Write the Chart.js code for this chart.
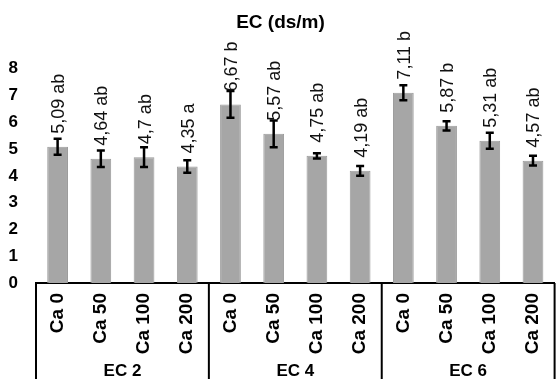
<!DOCTYPE html>
<html>
<head>
<meta charset="utf-8">
<script src="https://cdn.jsdelivr.net/npm/chart.js@4.4.0/dist/chart.umd.min.js"></script>
<style>
html,body{margin:0;padding:0;overflow:hidden;background:#fff;}
#wrap{width:566px;height:383px;position:relative;}
</style>
</head>
<body>
<div id="wrap"><canvas id="c"></canvas></div>
<script>
const categories = ['Ca 0','Ca 50','Ca 100','Ca 200','Ca 0','Ca 50','Ca 100','Ca 200','Ca 0','Ca 50','Ca 100','Ca 200'];
const groups = ['EC 2','EC 4','EC 6'];
const values = [5.09,4.64,4.7,4.35,6.67,5.57,4.75,4.19,7.11,5.87,5.31,4.57];
const errors = [0.30,0.31,0.37,0.23,0.50,0.50,0.10,0.18,0.28,0.17,0.30,0.18];
const letters = ['ab','ab','ab','a','b','ab','ab','ab','b','b','ab','ab'];
const yTicks = [0,1,2,3,4,5,6,7,8];

const FONT = "'Liberation Sans', Arial, sans-serif";

const extras = {
  id: 'extras',
  afterDatasetsDraw(chart) {
    const ctx = chart.ctx;
    const x = chart.scales.x, y = chart.scales.y;
    ctx.save();
    // error bars
    ctx.strokeStyle = '#000';
    values.forEach((v, i) => {
      const cx = x.getPixelForValue(i);
      const yt = y.getPixelForValue(v + errors[i]);
      const yb = y.getPixelForValue(v - errors[i]);
      ctx.lineWidth = 2.5;
      ctx.beginPath();
      ctx.moveTo(cx, yt); ctx.lineTo(cx, yb);
      ctx.moveTo(cx - 4, yt); ctx.lineTo(cx + 4, yt);
      ctx.moveTo(cx - 4, yb); ctx.lineTo(cx + 4, yb);
      ctx.stroke();
    });
    // value labels
    ctx.fillStyle = '#111';
    ctx.font = '18px ' + FONT;
    ctx.textAlign = 'left';
    ctx.textBaseline = 'alphabetic';
    values.forEach((v, i) => {
      const cx = x.getPixelForValue(i);
      const yy = y.getPixelForValue(v) - 13;
      ctx.save();
      ctx.translate(cx + 6.5, yy);
      ctx.rotate(-Math.PI / 2);
      ctx.fillText(String(v).replace('.', ',') + ' ' + letters[i], 0, 0);
      ctx.restore();
    });
    // group separators & labels
    const bottom = chart.chartArea.bottom;
    const per = categories.length / groups.length;
    const half = (x.getPixelForValue(1) - x.getPixelForValue(0)) / 2;
    ctx.strokeStyle = '#000';
    ctx.lineWidth = 2;
    for (let g = 0; g <= groups.length; g++) {
      const px = x.getPixelForValue(g * per) - half;
      ctx.beginPath();
      ctx.moveTo(px, bottom);
      ctx.lineTo(px, bottom + 96);
      ctx.stroke();
    }
    ctx.fillStyle = '#000';
    ctx.font = 'bold 17px ' + FONT;
    ctx.textAlign = 'center';
    ctx.textBaseline = 'middle';
    groups.forEach((gname, g) => {
      const a = x.getPixelForValue(g * per) - half;
      const b = x.getPixelForValue((g + 1) * per - 1) + half;
      ctx.fillText(gname, (a + b) / 2, bottom + 88);
    });
    ctx.restore();
  }
};

new Chart(document.getElementById('c'), {
  type: 'bar',
  data: {
    labels: categories,
    datasets: [{
      data: values,
      backgroundColor: '#a6a6a6',
      borderColor: '#9a9a9a',
      borderWidth: 1,
      categoryPercentage: 1,
      barPercentage: 0.48
    }]
  },
  options: {
    responsive: true,
    maintainAspectRatio: false,
    animation: false,
    devicePixelRatio: 1,
    layout: { padding: { left: 0, right: 5, top: 0, bottom: 0 } },
    plugins: {
      legend: { display: false },
      tooltip: { enabled: false },
      title: {
        display: true,
        text: 'EC (ds/m)',
        color: '#000',
        font: { family: FONT, size: 19, weight: 'bold' },
        padding: { top: 11, bottom: 35 }
      }
    },
    scales: {
      x: {
        grid: { display: false, drawTicks: false },
        border: { display: true, color: '#000', width: 2 },
        ticks: {
          color: '#000',
          font: { family: FONT, size: 19, weight: 'bold' },
          minRotation: 90, maxRotation: 90,
          padding: 10,
          autoSkip: false
        },
        afterFit(s) { s.height = 100; }
      },
      y: {
        min: 0, max: 8,
        grid: { display: false, drawTicks: false },
        border: { display: false },
        afterBuildTicks(s) { s.ticks = yTicks.map(v => ({ value: v })); },
        ticks: {
          color: '#000',
          font: { family: FONT, size: 17, weight: 'bold' },
          padding: 18
        },
        afterFit(s) { s.width = 36; }
      }
    }
  },
  plugins: [extras]
});
</script>
</body>
</html>
